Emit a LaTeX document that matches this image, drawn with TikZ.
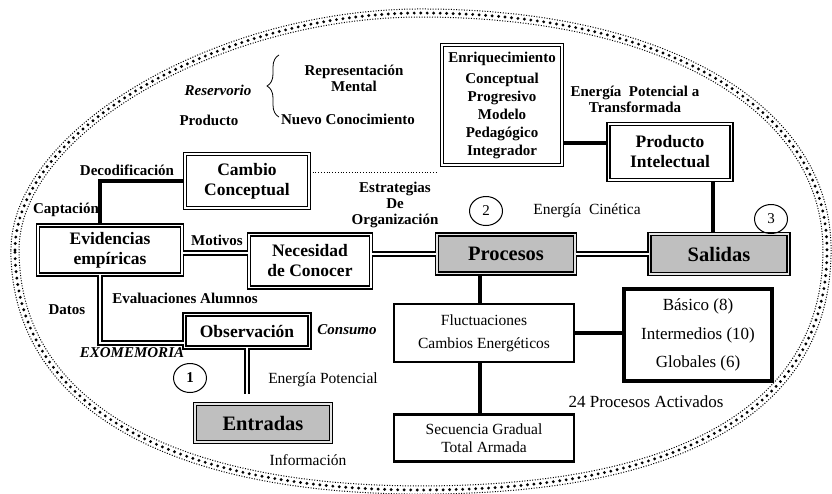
\documentclass[tikz,border=0pt]{standalone}
\usepackage{fontspec}
\setmainfont{Liberation Serif}
\usetikzlibrary{positioning,shapes,calc,decorations.pathreplacing}

\begin{document}
\begin{tikzpicture}[
    x=1pt, y=-1pt,
    dbox/.style={
        rectangle,
        draw=black,
        line width=1.6pt,
        double,
        double distance=1.6pt,
        inner sep=0pt,
        align=center,
        font=\fontsize{17.5}{20}\selectfont\bfseries
    },
    gbox/.style={
        rectangle,
        draw=black,
        line width=1.2pt,
        double=gray!20,
        double distance=1.8pt,
        fill=gray!50,
        inner sep=0pt,
        font=\fontsize{20.5}{22}\selectfont\bfseries
    },
    tbox/.style={
        rectangle,
        draw=black,
        line width=2.8pt,
        inner sep=0pt,
        align=center,
        font=\fontsize{15.5}{23}\selectfont
    },
    lbl/.style={font=\fontsize{15}{16}\selectfont\bfseries, align=center, inner sep=0pt},
    ilbl/.style={lbl, font=\fontsize{15}{16}\selectfont\bfseries\itshape},
    txt/.style={font=\fontsize{15.5}{17}\selectfont, inner sep=0pt},
    num/.style={ellipse, draw=black, line width=1pt, minimum width=33pt, minimum height=29pt, inner sep=0pt, font=\fontsize{15}{17}\selectfont},
    heavy/.style={draw, line width=3.6pt},
    dline/.style={draw, line width=1.8pt, double, double distance=2pt},
    rim/.style={line width=1pt, dash pattern=on 1pt off 1.6pt},
    rimdots/.style={line width=3.2pt, line cap=round, dash pattern=on 0pt off 6.5pt}
]
    \useasboundingbox (0,0) rectangle (832,493);

    % Outer ring
    \begin{scope}[shift={(421,250)}]
        \foreach \sx/\sy/\rimstyle in {1.01/1.017/rim, 1/1/rimdots, 0.99/0.983/rim}
            \draw[\rimstyle, xscale=\sx, yscale=\sy]
                (-406,0) .. controls (-406,-118) and (-203,-237) .. (0,-237)
                .. controls (244,-237) and (406,-142) .. (406,0)
                .. controls (406,156) and (264,240) .. (0,240)
                .. controls (-256,240) and (-406,151) .. cycle;
    \end{scope}

    % Reservorio
    \node[ilbl] (reserv) at (218,90) {Reservorio};
    \node[lbl] (prod) at (209,120) {Producto};
    \node[lbl] (repr) at (354,78) {Representación\\Mental};
    \node[lbl] (nuevo) at (348,119) {Nuevo Conocimiento};
    \draw[decorate, decoration={brace, amplitude=12pt}, line width=0.8pt] (279,117) -- (279,55);

    % Enriquecimiento and Producto
    \node[dbox, minimum width=120pt, minimum height=120pt, font=\fontsize{15}{18}\selectfont\bfseries] (enriq) at (502,105)
        {Enriquecimiento\\[3pt]Conceptual\\Progresivo\\Modelo\\Pedagógico\\Integrador};
    \node[lbl] (epot) at (635,99) {Energía~~Potencial a\\Transformada};
    \node[dbox, minimum width=123pt, minimum height=56pt] (intel) at (670,152) {Producto\\Intelectual};

    % Middle row
    \node[dbox, minimum width=124pt, minimum height=54pt] (cambio) at (247,181) {Cambio\\Conceptual};
    \node[dbox, minimum width=144pt, minimum height=49pt] (evid) at (110,250) {Evidencias\\empíricas};
    \node[dbox, minimum width=122pt, minimum height=53pt] (neces) at (310,261) {Necesidad\\de Conocer};
    \node[gbox, minimum width=138pt, minimum height=39pt] (proc) at (506,254) {Procesos};
    \node[gbox, minimum width=139pt, minimum height=40pt] (salid) at (719,254) {Salidas};

    \node[lbl] (decod) at (127,170) {Decodificación};
    \node[lbl] (capt) at (66,210) {Captación};
    \node[lbl] (motiv) at (217,240) {Motivos};
    \node[lbl] (estrat) at (395,205) {Estrategias\\De\\Organización};
    \node[num] (n2) at (486,211) {2};
    \node[txt] (ecin) at (587,211) {Energía~~Cinética};
    \node[num] (n3) at (771,219) {3};

    % Entradas side
    \node[lbl] (evalu) at (185,298) {Evaluaciones Alumnos};
    \node[lbl] (datos) at (67,310) {Datos};
    \node[dbox, minimum width=125pt, minimum height=33pt] (observ) at (247,331) {Observación};
    \node[ilbl] (consumo) at (347,330) {Consumo};
    \node[ilbl] (exom) at (132,353) {EXOMEMORIA};
    \node[num, font=\fontsize{15}{17}\selectfont\bfseries] (n1) at (190,378) {1};
    \node[txt] (epot2) at (323,380) {Energía Potencial};
    \node[gbox, minimum width=136pt, minimum height=38pt] (entr) at (263,423) {Entradas};
    \node[txt] (info) at (308,460) {Información};

    % Procesos side
    \node[tbox, minimum width=180pt, minimum height=58pt] (fluct) at (484,333) {Fluctuaciones\\Cambios Energéticos};
    \node[tbox, line width=3.6pt, minimum width=148pt, minimum height=92pt, font=\fontsize{17}{28.5}\selectfont] (basic) at (698,335)
        {Básico (8)\\Intermedios (10)\\Globales (6)};
    \node[txt, font=\fontsize{17}{19}\selectfont] (activ) at (646,402) {24 Procesos Activados};
    \node[tbox, minimum width=180pt, minimum height=47pt, font=\fontsize{15.5}{18}\selectfont] (secu) at (484,438) {Secuencia Gradual\\Total Armada};

    % Connections
    \coordinate (dotend) at (437,172);
    \draw[dotted, line width=0.8pt] (cambio.east |- dotend) -- (dotend);
    \draw[heavy] (cambio.west) -| ([xshift=-10pt]evid.north);
    \draw[dline] ([yshift=-3pt]evid.east) -- ([yshift=-3pt]evid.east -| neces.west);
    \draw[dline] (proc.west -| neces.east) -- (proc.west);
    \draw[dline] (proc.east) -- (salid.west);
    \draw[heavy] ([yshift=9pt]intel.west -| enriq.east) -- ([yshift=9pt]intel.west);
    \draw[heavy] ([xshift=-6pt]salid.north |- intel.south) -- ([xshift=-6pt]salid.north);
    \draw[heavy] ([xshift=-4pt]fluct.north |- proc.south) -- ([xshift=-4pt]fluct.north);
    \draw[heavy] ([xshift=-4pt]fluct.south) -- ([xshift=-4pt]secu.north);
    \draw[heavy] (fluct.east) -- (fluct.east -| basic.west);
    \draw[dline] ([xshift=-10pt]evid.south) |- ([yshift=-12pt]observ.west);
    \draw[dline] (observ.south) -- ([yshift=9pt]observ.south |- entr.north);
\end{tikzpicture}
\end{document}
